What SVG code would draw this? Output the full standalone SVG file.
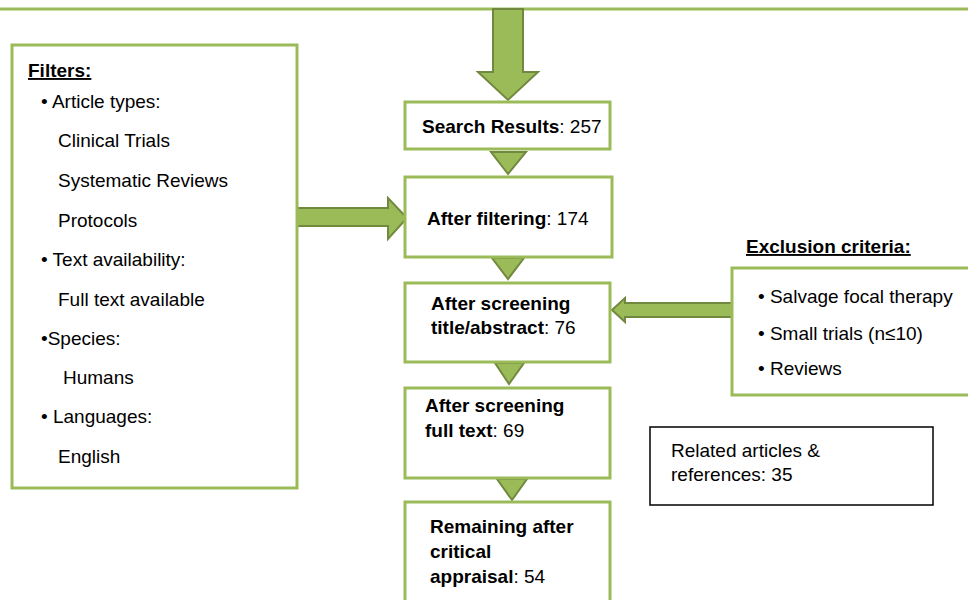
<svg xmlns="http://www.w3.org/2000/svg" width="968" height="600" viewBox="0 0 968 600">
<style>
.box{fill:#fff;stroke:#9BBB59;stroke-width:3}
.arr{fill:#9BBB59;stroke:#71893F;stroke-width:2;stroke-linejoin:miter}
.t{font-family:"Liberation Sans",Arial,sans-serif;font-size:19px;fill:#000}
.b{font-weight:bold}
.u{text-decoration:underline}
</style>
<rect width="968" height="600" fill="#fff"/>
<g id="connectors">
<line x1="0" y1="9" x2="968" y2="9" stroke="#9BBB59" stroke-width="3"/>
<polygon class="arr" points="493,9 523,9 523,72 538,72 508,100 478,72 493,72"/>
<polygon class="arr" points="297,208 388,208 388,198 407,218 388,239 388,226 297,226"/>
<polygon class="arr" points="733,303 625,303 625,298 612,310 625,322 625,317 733,317"/>
<polygon class="arr" points="491,152 526,152 508,174"/>
<polygon class="arr" points="492,258 524,258 508,279"/>
<polygon class="arr" points="495,363 524,363 509,384"/>
<polygon class="arr" points="497,479 527,479 512,500"/>
</g>
<g id="filters">
<rect class="box" x="12" y="45" width="285" height="443"/>
<text class="t b u" x="28" y="77" font-size="20">Filters:</text>
<text class="t" x="41" y="108">• Article types:</text>
<text class="t" x="58" y="147">Clinical Trials</text>
<text class="t" x="58" y="187">Systematic Reviews</text>
<text class="t" x="58" y="227">Protocols</text>
<text class="t" x="41" y="266">• Text availability:</text>
<text class="t" x="58" y="306">Full text available</text>
<text class="t" x="41" y="345">•Species:</text>
<text class="t" x="63" y="384">Humans</text>
<text class="t" x="41" y="423">• Languages:</text>
<text class="t" x="58" y="463">English</text>
</g>
<g id="search">
<rect class="box" x="405" y="102" width="205" height="47"/>
<text class="t" x="422" y="133" font-size="18.5"><tspan class="b">Search Results</tspan>: 257</text>
</g>
<g id="filtering">
<rect class="box" x="405" y="177" width="207" height="80"/>
<text class="t" x="427" y="225"><tspan class="b">After filtering</tspan>: 174</text>
</g>
<g id="screen-title">
<rect class="box" x="405" y="283" width="205" height="79"/>
<text class="t b" x="431" y="310">After screening</text>
<text class="t" x="431" y="334"><tspan class="b">title/abstract</tspan>: 76</text>
</g>
<g id="screen-full">
<rect class="box" x="405" y="388" width="205" height="90"/>
<text class="t b" x="425" y="412">After screening</text>
<text class="t" x="425" y="437"><tspan class="b">full text</tspan>: 69</text>
</g>
<g id="remaining">
<rect class="box" x="405" y="502" width="205" height="110"/>
<text class="t b" x="430" y="533">Remaining after</text>
<text class="t b" x="430" y="558">critical</text>
<text class="t" x="430" y="583"><tspan class="b">appraisal</tspan>: 54</text>
</g>
<g id="exclusion">
<text class="t b u" x="746" y="253" font-size="20">Exclusion criteria:</text>
<rect class="box" x="732" y="268" width="250" height="127"/>
<text class="t" x="758" y="303" font-size="19.8">• Salvage focal therapy</text>
<text class="t" x="758" y="340" font-size="19.8">• Small trials (n≤10)</text>
<text class="t" x="758" y="375" font-size="19.8">• Reviews</text>
</g>
<g id="related">
<rect x="650" y="427" width="283" height="78" fill="#fff" stroke="#000" stroke-width="1.5"/>
<text class="t" x="671" y="457" font-size="19.6">Related articles &amp;</text>
<text class="t" x="671" y="481" font-size="19.6">references: 35</text>
</g>
</svg>
